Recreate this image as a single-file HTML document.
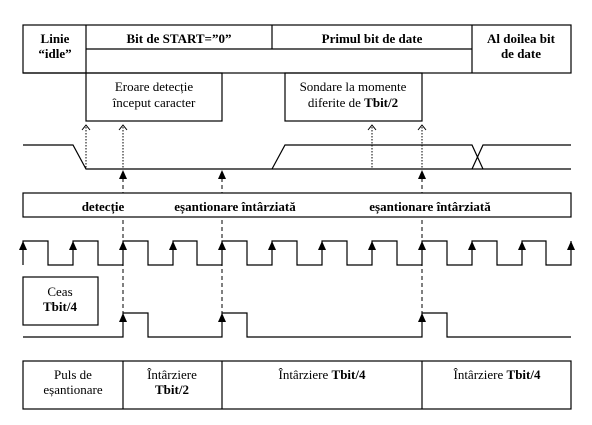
<!DOCTYPE html>
<html><head><meta charset="utf-8"><style>
html,body{margin:0;padding:0;background:#fff}
svg text{font-family:"Liberation Serif",serif;font-size:13px;fill:#000}
.b{font-weight:bold}
</style></head><body>
<svg width="592" height="420" viewBox="0 0 592 420" xmlns="http://www.w3.org/2000/svg">
<defs>
<marker id="ah" markerWidth="8" markerHeight="8" refX="4" refY="1" orient="auto-start-reverse" markerUnits="userSpaceOnUse">
</marker>
</defs>
<g stroke="#000" stroke-width="1.2" fill="none">
<!-- top table -->
<rect x="23" y="25" width="548" height="48" fill="#fff"/>
<line x1="86" y1="25" x2="86" y2="73"/>
<line x1="86" y1="49" x2="472" y2="49"/>
<line x1="272" y1="25" x2="272" y2="49"/>
<line x1="472" y1="25" x2="472" y2="73"/>
<line x1="86" y1="73" x2="23" y2="73"/>
<!-- boxes -->
<rect x="86" y="73" width="136" height="48"/>
<rect x="285" y="73" width="137" height="48"/>
<!-- signal -->
<polyline points="23,145 73,145 86,169 571,169"/>
<polyline points="272,169 285,145 472,145 483,169"/>
<polyline points="472,169 483,145 571,145"/>
<!-- dotted arrows -->
<g stroke-dasharray="1.5,1.5" stroke-width="1">
<line x1="86" y1="127" x2="86" y2="169"/>
<line x1="123" y1="127" x2="123" y2="169"/>
<line x1="372" y1="127" x2="372" y2="169"/>
<line x1="422" y1="127" x2="422" y2="169"/>
</g>
<g stroke-width="1">
<polyline points="82,130 86,125 90,130"/>
<polyline points="119,130 123,125 127,130"/>
<polyline points="368,130 372,125 376,130"/>
<polyline points="418,130 422,125 426,130"/>
</g>
<!-- dashed verticals -->
<g stroke-dasharray="4,3" stroke-width="1">
<line x1="123" y1="178" x2="123" y2="313"/>
<line x1="222" y1="178" x2="222" y2="313"/>
<line x1="422" y1="178" x2="422" y2="313"/>
</g>
<!-- middle box -->
<rect x="23" y="193" width="548" height="24" fill="#fff"/>
<!-- clock -->
<polyline points="23,265 23,241 48,241 48,265 73,265 73,241 98,241 98,265 123,265 123,241 148,241 148,265 173,265 173,241 197,241 197,265 222,265 222,241 247,241 247,265 272,265 272,241 297,241 297,265 322,265 322,241 347,241 347,265 372,265 372,241 397,241 397,265 422,265 422,241 447,241 447,265 472,265 472,241 497,241 497,265 522,265 522,241 546,241 546,265 571,265 571,241"/>
<!-- ceas box -->
<rect x="23" y="277" width="75" height="48"/>
<!-- pulse -->
<polyline points="23,337 123,337 123,313 148,313 148,337 222,337 222,313 247,313 247,337 422,337 422,313 447,313 447,337 571,337"/>
<!-- bottom table -->
<rect x="23" y="361" width="548" height="48"/>
<line x1="123" y1="361" x2="123" y2="409"/>
<line x1="222" y1="361" x2="222" y2="409"/>
<line x1="422" y1="361" x2="422" y2="409"/>
</g>
<!-- filled arrowheads -->
<g fill="#000">
<path d="M119,179 L123,170 L127,179Z"/><path d="M218,179 L222,170 L226,179Z"/><path d="M418,179 L422,170 L426,179Z"/>
<path d="M119,322 L123,313 L127,322Z"/><path d="M218,322 L222,313 L226,322Z"/><path d="M418,322 L422,313 L426,322Z"/>
<path d="M19,250 L23,241 L27,250Z"/><path d="M69,250 L73,241 L77,250Z"/><path d="M119,250 L123,241 L127,250Z"/><path d="M169,250 L173,241 L177,250Z"/><path d="M218,250 L222,241 L226,250Z"/><path d="M268,250 L272,241 L276,250Z"/><path d="M318,250 L322,241 L326,250Z"/><path d="M368,250 L372,241 L376,250Z"/><path d="M418,250 L422,241 L426,250Z"/><path d="M468,250 L472,241 L476,250Z"/><path d="M518,250 L522,241 L526,250Z"/><path d="M567,250 L571,241 L575,250Z"/>
</g>
<!-- text -->
<text x="55" y="43" text-anchor="middle" class="b">Linie</text>
<text x="55" y="58" text-anchor="middle" class="b">“idle”</text>
<text x="179" y="43" text-anchor="middle" class="b">Bit de START=”0”</text>
<text x="372" y="43" text-anchor="middle" class="b">Primul bit de date</text>
<text x="521" y="43" text-anchor="middle" class="b">Al doilea bit</text>
<text x="521" y="58" text-anchor="middle" class="b">de date</text>
<text x="154" y="91" text-anchor="middle">Eroare detecție</text>
<text x="154" y="107" text-anchor="middle">început caracter</text>
<text x="353" y="91" text-anchor="middle">Sondare la momente</text>
<text x="353" y="107" text-anchor="middle">diferite de <tspan class="b">Tbit/2</tspan></text>
<text x="103" y="211" text-anchor="middle" class="b">detecție</text>
<text x="235" y="211" text-anchor="middle" class="b">eșantionare întârziată</text>
<text x="430" y="211" text-anchor="middle" class="b">eșantionare întârziată</text>
<text x="60" y="296" text-anchor="middle">Ceas</text>
<text x="60" y="311" text-anchor="middle" class="b">Tbit/4</text>
<text x="73" y="379" text-anchor="middle">Puls de</text>
<text x="73" y="394" text-anchor="middle">eșantionare</text>
<text x="172" y="379" text-anchor="middle">Întârziere</text>
<text x="172" y="394" text-anchor="middle" class="b">Tbit/2</text>
<text x="322" y="379" text-anchor="middle">Întârziere <tspan class="b">Tbit/4</tspan></text>
<text x="497" y="379" text-anchor="middle">Întârziere <tspan class="b">Tbit/4</tspan></text>
</svg>
</body></html>
